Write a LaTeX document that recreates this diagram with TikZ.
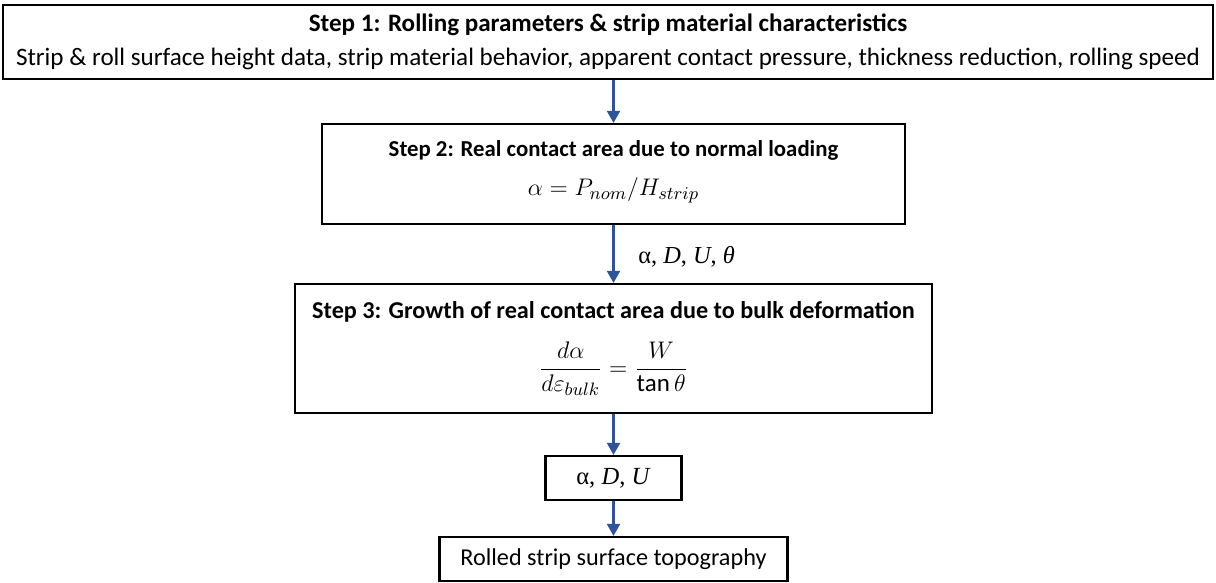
\documentclass[tikz,border=0pt]{standalone}
\usepackage{amsmath}
\usepackage{fontspec}
\setmainfont{Carlito}
\newfontfamily\timesfont{Liberation Serif}
\usetikzlibrary{arrows.meta}
\definecolor{flowblue}{RGB}{47,85,151}

\begin{document}
\begin{tikzpicture}[x=0.5pt,y=-0.5pt,>={Triangle[length=6pt,width=6.5pt]},
    box/.style={draw,line width=1.1pt,inner sep=0pt,align=center,
      font=\fontsize{12.55}{15}\selectfont},
    flow/.style={->,draw=flowblue,fill=flowblue,line width=1.1pt}]
  \useasboundingbox (0,0) rectangle (1216,583);
  % the five stages
  \node[box,minimum width=605pt,minimum height=37pt] (step1) at (608,42)
    {\textbf{Step 1: Rolling parameters \& strip material characteristics}\\[2pt]
     Strip \& roll surface height data, strip material behavior, apparent contact pressure, thickness reduction, rolling speed};
  \node[box,minimum width=291.5pt,minimum height=50pt,font=\fontsize{11.4}{14}\selectfont] (step2) at (613.5,174)
    {\textbf{Step 2: Real contact area due to normal loading}\\[5.5pt]
     \fontsize{13.1}{16}\selectfont$\alpha = P_{nom}/H_{strip}$\rule[-6pt]{0pt}{6pt}};
  \node[box,minimum width=318.5pt,minimum height=64.5pt,font=\fontsize{12.1}{15}\selectfont] (step3) at (613.5,348.5)
    {\textbf{Step 3: Growth of real contact area due to bulk deformation}\\[9pt]
     \fontsize{12.5}{15}\selectfont$\dfrac{d\alpha}{d\varepsilon_{bulk}}=\dfrac{W}{\tan\theta}$};
  \node[box,minimum width=68pt,minimum height=22pt,font=\fontsize{12.3}{15}\timesfont] (vals) at (613.5,478)
    {α, \textit{D}, \textit{U}};
  \node[box,minimum width=174pt,minimum height=22pt,font=\fontsize{12.1}{15}\selectfont] (topo) at (613.5,559)
    {Rolled strip surface topography};
  % connectors
  \draw[flow] (step2.north |- step1.south) -- (step2.north);
  \draw[flow] (step2) -- node[right=8.5pt,yshift=-1.5pt,font=\fontsize{12.2}{15}\timesfont] (vars)
    {α, \textit{D}, \textit{U}, \textit{θ}} (step3);
  \draw[flow] (step3) -- (vals);
  \draw[flow] (vals) -- (topo);
\end{tikzpicture}
\end{document}
